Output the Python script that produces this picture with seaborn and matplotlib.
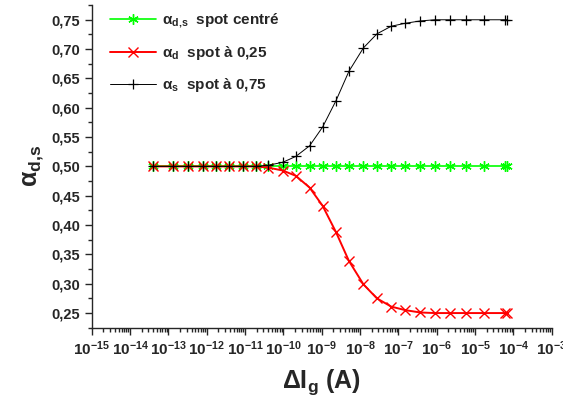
import numpy as np
import pandas as pd
import matplotlib
matplotlib.use('Agg')
import matplotlib.pyplot as plt
import matplotlib.ticker as mticker
import seaborn as sns

current = [3.9e-14, 1.3e-13, 3.2e-13, 7.9e-13, 1.7e-12, 3.8e-12, 8.7e-12, 1.9e-11,
           4.0e-11, 9.6e-11, 2.1e-10, 4.8e-10, 1.05e-9, 2.35e-9, 5.1e-9, 1.22e-8,
           2.75e-8, 6.5e-8, 1.5e-7, 3.7e-7, 8.9e-7, 2.2e-6, 5.9e-6, 1.7e-5, 6.0e-5, 6.8e-5]
alpha_ds = [0.5] * 26
alpha_d = [0.5, 0.5, 0.5, 0.5, 0.5, 0.5, 0.5, 0.5, 0.498, 0.493, 0.484, 0.464, 0.433,
           0.388, 0.339, 0.299, 0.275, 0.261, 0.255, 0.251, 0.25, 0.25, 0.25, 0.25, 0.25, 0.25]
alpha_s = [0.5, 0.5, 0.5, 0.5, 0.5, 0.5, 0.5, 0.5, 0.502, 0.507, 0.517, 0.535, 0.567,
           0.612, 0.662, 0.702, 0.726, 0.739, 0.744, 0.748, 0.75, 0.75, 0.75, 0.75, 0.75, 0.75]

labels = [r'$\mathbf{α_{d{,}s}}$  spot centré',
          r'$\mathbf{α_{d}}$  spot à 0,25',
          r'$\mathbf{α_{s}}$  spot à 0,75']
yticks = [0.25, 0.30, 0.35, 0.40, 0.45, 0.50, 0.55, 0.60, 0.65, 0.70, 0.75]
ytick_labels = ['0,25', '0,30', '0,35', '0,40', '0,45', '0,50', '0,55', '0,60', '0,65', '0,70', '0,75']

df = pd.DataFrame({'I': current, 'ds': alpha_ds, 'd': alpha_d, 's': alpha_s})

sns.set_style('ticks')
plt.rcParams['font.family'] = ['Liberation Sans', 'DejaVu Sans']
plt.rcParams['font.weight'] = 'bold'
plt.rcParams['mathtext.fontset'] = 'custom'
plt.rcParams['mathtext.rm'] = 'Liberation Sans:bold'
plt.rcParams['mathtext.bf'] = 'Liberation Sans:bold'
plt.rcParams['mathtext.it'] = 'Liberation Sans:bold'
plt.rcParams['mathtext.default'] = 'bf'

fig = plt.figure(figsize=(5.63, 4.01), dpi=100)
ax = fig.add_axes([0.163, 0.182, 0.817, 0.806])

sns.lineplot(data=df, x='I', y='ds', ax=ax, color='#00ff00', lw=1.2, marker=(6, 2, 0),
             markersize=7.5, markeredgewidth=1.0, markeredgecolor='#00ff00', label=labels[0])
sns.lineplot(data=df, x='I', y='d', ax=ax, color='#ff0000', lw=1.4, marker='x',
             markersize=6.5, markeredgewidth=1.0, markeredgecolor='#ff0000', label=labels[1])
sns.lineplot(data=df, x='I', y='s', ax=ax, color='black', lw=0.7, marker='+',
             markersize=6.5, markeredgewidth=0.9, markeredgecolor='black', label=labels[2])

ax.set_xscale('log')
ax.set_xlim(1e-15, 1e-3)
ax.set_ylim(0.2245, 0.7755)
ax.xaxis.set_major_locator(mticker.LogLocator(base=10, numticks=20))
ax.xaxis.set_minor_locator(mticker.LogLocator(base=10, subs=np.arange(2, 10), numticks=200))
ax.xaxis.set_minor_formatter(mticker.NullFormatter())
ax.set_yticks(yticks)
ax.set_yticklabels(ytick_labels)
ax.yaxis.set_minor_locator(mticker.MultipleLocator(0.025))

ax.tick_params(axis='both', which='major', direction='out', length=5, width=1)
ax.tick_params(axis='y', which='major', labelsize=10.5)
ax.tick_params(axis='x', which='major', labelsize=11, pad=3)
ax.tick_params(axis='both', which='minor', direction='out', length=3, width=1)
for lab in ax.get_xticklabels() + ax.get_yticklabels():
    lab.set_fontweight('bold')

sns.despine(ax=ax)
ax.spines['left'].set_linewidth(1)
ax.spines['bottom'].set_linewidth(1)

ax.set_xlabel(r'$\mathbf{ΔI_g}$ (A)', fontsize=18, fontweight='bold', labelpad=7)
ax.set_ylabel(r'$\mathbf{α_{d{,}s}}$', fontsize=18, fontweight='bold', labelpad=4)

ax.legend(loc='upper left', bbox_to_anchor=(0.01, 1.02), frameon=False, handlelength=3,
          handletextpad=0.4, labelspacing=0.9, prop={'size': 11, 'weight': 'bold'})

fig.savefig('out.png', dpi=100)
